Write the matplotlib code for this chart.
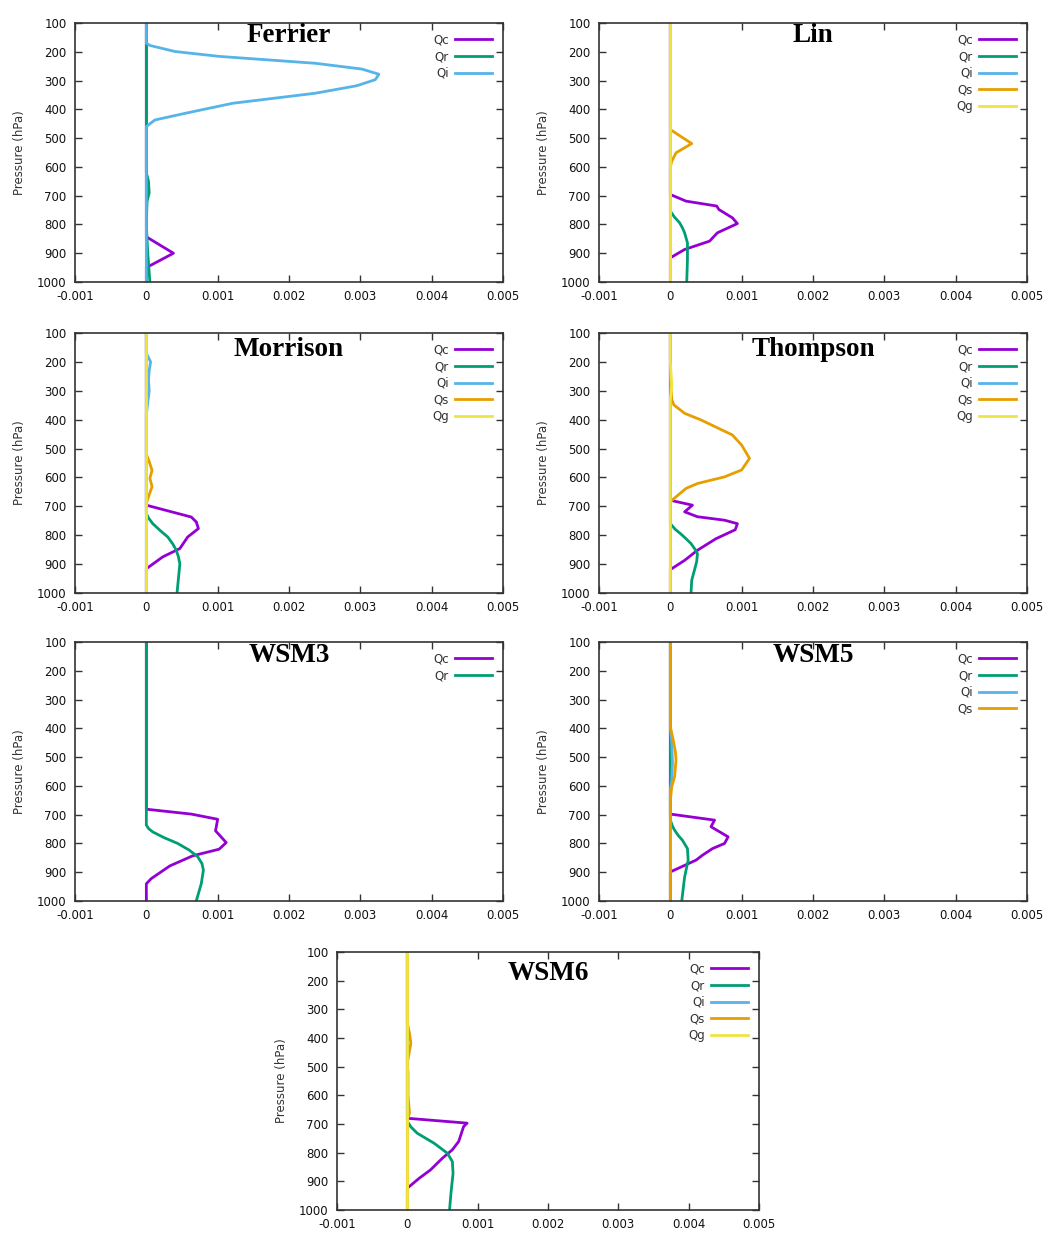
import matplotlib
matplotlib.use("Agg")
import matplotlib.pyplot as plt

# hydrometeor mixing ratio profiles (kg/kg) against pressure (hPa)
zero_p = [100, 1000]
zero_q = [0, 0]

ferrier_qc_p = [100, 843, 900, 950, 1000]
ferrier_qc = [0, 0, 0.00038, 0, 0]
ferrier_qr_p = [100, 620, 650, 690, 720, 800, 900, 1000]
ferrier_qr = [0, 0, 0.00003, 0.00004, 0.00001, 0, 0.00002, 0.00005]
ferrier_qi_p = [100, 170, 178, 199, 216, 240, 260, 278, 297, 318, 344, 379, 413, 437, 454, 460, 1000]
ferrier_qi = [0, 0, 0.00005, 0.0004, 0.00102, 0.00237, 0.00302, 0.00326, 0.00321, 0.00295,
              0.00237, 0.00121, 0.00056, 0.00012, 0.00003, 0, 0]

lin_qc_p = [100, 696, 719, 736, 748, 777, 797, 829, 858, 887, 916, 1000]
lin_qc = [0, 0, 0.00022, 0.00065, 0.00068, 0.00087, 0.00094, 0.00066, 0.00055, 0.0002, 0, 0]
lin_qr_p = [100, 754, 775, 794, 812, 829, 864, 922, 1000]
lin_qr = [0, 0, 0.00006, 0.00013, 0.00017, 0.0002, 0.00024, 0.00024, 0.00023]
lin_qs_p = [100, 470, 485, 519, 551, 580, 600, 1000]
lin_qs = [0, 0, 0.00009, 0.0003, 0.00008, 0.00002, 0, 0]

morrison_qc_p = [100, 696, 737, 754, 777, 806, 846, 875, 916, 1000]
morrison_qc = [0, 0, 0.00063, 0.0007, 0.00073, 0.00058, 0.00047, 0.00023, 0, 0]
morrison_qr_p = [100, 725, 740, 760, 785, 806, 830, 852, 875, 899, 950, 1000]
morrison_qr = [0, 0, 0.00003, 0.00009, 0.0002, 0.0003, 0.00037, 0.00042, 0.00045, 0.00047, 0.00045, 0.00043]
morrison_qi_p = [100, 170, 200, 230, 260, 300, 340, 383, 1000]
morrison_qi = [0, 0, 0.00006, 0.00004, 0.00003, 0.00004, 0.00002, 0, 0]
morrison_qs_p = [100, 520, 545, 575, 603, 632, 667, 690, 1000]
morrison_qs = [0, 0, 0.00004, 0.00008, 0.00005, 0.00008, 0.00003, 0, 0]

thompson_qc_p = [100, 679, 696, 719, 736, 748, 760, 781, 812, 852, 887, 919, 1000]
thompson_qc = [0, 0, 0.00031, 0.0002, 0.00038, 0.00076, 0.00094, 0.00091, 0.00064, 0.00038, 0.0002, 0, 0]
thompson_qr_p = [100, 760, 780, 794, 812, 829, 850, 864, 890, 910, 956, 1000]
thompson_qr = [0, 0, 0.00007, 0.00014, 0.00022, 0.00029, 0.00035, 0.00038, 0.00037, 0.00035, 0.0003, 0.00029]
thompson_qs_p = [100, 250, 330, 349, 378, 401, 453, 488, 534, 574, 598, 621, 638, 667, 684, 1000]
thompson_qs = [0, 0, 0.00002, 0.00005, 0.0002, 0.00043, 0.00087, 0.001, 0.00111, 0.001,
               0.00076, 0.00038, 0.00022, 0.00008, 0, 0]
thompson_qg_p = [100, 200, 280, 330, 1000]
thompson_qg = [0, 0, 0.00002, 0, 0]

wsm3_qc_p = [100, 681, 698, 716, 756, 797, 820, 843, 878, 922, 940, 1000]
wsm3_qc = [0, 0, 0.00063, 0.001, 0.00097, 0.00112, 0.00102, 0.00065, 0.00033, 0.00007, 0, 0]
wsm3_qr_p = [100, 736, 748, 760, 780, 800, 823, 846, 870, 893, 940, 1000]
wsm3_qr = [0, 0, 0.00003, 0.00009, 0.00025, 0.00044, 0.0006, 0.00072, 0.00078, 0.0008, 0.00077, 0.0007]

wsm5_qc_p = [100, 698, 719, 742, 777, 800, 818, 841, 858, 899, 1000]
wsm5_qc = [0, 0, 0.00062, 0.00057, 0.00081, 0.00076, 0.00059, 0.00045, 0.00036, 0, 0]
wsm5_qr_p = [100, 719, 740, 754, 772, 789, 818, 858, 917, 1000]
wsm5_qr = [0, 0, 0.00003, 0.00006, 0.00011, 0.00017, 0.00024, 0.00025, 0.0002, 0.00016]
wsm5_qi_p = [100, 394, 450, 520, 580, 614, 1000]
wsm5_qi = [0, 0, 0.00002, 0.00003, 0.00002, 0, 0]
wsm5_qs_p = [100, 394, 440, 480, 510, 568, 603, 650, 1000]
wsm5_qs = [0, 0, 0.00004, 0.00007, 0.00008, 0.00006, 0.00002, 0, 0]

wsm6_qc_p = [100, 680, 697, 709, 761, 790, 819, 843, 860, 889, 924, 1000]
wsm6_qc = [0, 0, 0.00085, 0.0008, 0.00073, 0.00064, 0.0005, 0.0004, 0.00033, 0.00017, 0, 0]
wsm6_qr_p = [100, 691, 710, 732, 767, 802, 831, 872, 942, 1000]
wsm6_qr = [0, 0, 0.00005, 0.00014, 0.00038, 0.00057, 0.00064, 0.00065, 0.00062, 0.0006]
wsm6_qs_p = [100, 348, 383, 418, 459, 488, 523, 600, 662, 686, 1000]
wsm6_qs = [0, 0, 0.00003, 0.00005, 0.00002, 0, 0.00001, 0.00001, 0.00003, 0, 0]

x_ticks = [-0.001, 0, 0.001, 0.002, 0.003, 0.004, 0.005]
x_labels = ["-0.001", "0", "0.001", "0.002", "0.003", "0.004", "0.005"]
y_ticks = [100, 200, 300, 400, 500, 600, 700, 800, 900, 1000]

colors = {"Qc": "#9400D3", "Qr": "#009E73", "Qi": "#56B4E9", "Qs": "#E69F00", "Qg": "#F0E442"}

panels = [
    ("Ferrier", [("Qc", ferrier_qc_p, ferrier_qc), ("Qr", ferrier_qr_p, ferrier_qr),
                 ("Qi", ferrier_qi_p, ferrier_qi)]),
    ("Lin", [("Qc", lin_qc_p, lin_qc), ("Qr", lin_qr_p, lin_qr), ("Qi", zero_p, zero_q),
             ("Qs", lin_qs_p, lin_qs), ("Qg", zero_p, zero_q)]),
    ("Morrison", [("Qc", morrison_qc_p, morrison_qc), ("Qr", morrison_qr_p, morrison_qr),
                  ("Qi", morrison_qi_p, morrison_qi), ("Qs", morrison_qs_p, morrison_qs),
                  ("Qg", zero_p, zero_q)]),
    ("Thompson", [("Qc", thompson_qc_p, thompson_qc), ("Qr", thompson_qr_p, thompson_qr),
                  ("Qi", zero_p, zero_q), ("Qs", thompson_qs_p, thompson_qs),
                  ("Qg", thompson_qg_p, thompson_qg)]),
    ("WSM3", [("Qc", wsm3_qc_p, wsm3_qc), ("Qr", wsm3_qr_p, wsm3_qr)]),
    ("WSM5", [("Qc", wsm5_qc_p, wsm5_qc), ("Qr", wsm5_qr_p, wsm5_qr),
              ("Qi", wsm5_qi_p, wsm5_qi), ("Qs", wsm5_qs_p, wsm5_qs)]),
    ("WSM6", [("Qc", wsm6_qc_p, wsm6_qc), ("Qr", wsm6_qr_p, wsm6_qr), ("Qi", zero_p, zero_q),
              ("Qs", wsm6_qs_p, wsm6_qs), ("Qg", zero_p, zero_q)]),
]

# axes boxes in pixels: left, top, right, bottom ; title centre offset from top
W, H = 1050, 1235
boxes = [(75, 23, 503, 282), (599, 23, 1027, 282),
         (75, 333, 503, 593), (599, 333, 1027, 593),
         (75, 642, 503, 901), (599, 642, 1027, 901),
         (337, 952, 759, 1210)]
title_dy = [12, 12, 17, 17, 13, 13, 21]

fig = plt.figure(figsize=(W / 100, H / 100), dpi=100)
fig.patch.set_facecolor("white")

for (name, series), (l, t, r, b), dy in zip(panels, boxes, title_dy):
    ax = fig.add_axes([l / W, 1 - b / H, (r - l) / W, (b - t) / H])
    for label, p, q in series:
        ax.plot(q, p, color=colors[label], lw=2.0, label=label)
    ax.set_xlim(-0.001, 0.005)
    ax.set_ylim(1000, 100)
    ax.set_xticks(x_ticks)
    ax.set_xticklabels(x_labels)
    ax.set_yticks(y_ticks)
    ax.tick_params(direction="in", top=True, right=True, length=5, width=1.0,
                   labelsize=8.5, labelcolor="#111111", color="#333333", pad=6)
    for s in ax.spines.values():
        s.set_linewidth(1.2)
        s.set_color("#333333")
    ax.set_ylabel("Pressure (hPa)", fontsize=8.5, color="#333333", labelpad=8)
    ax.text(0.5, 1 - dy / (b - t), name, transform=ax.transAxes, ha="center", va="center",
            fontsize=19.5, fontweight="bold", family="Liberation Serif", color="black")
    ax.legend(loc="upper right", frameon=False, markerfirst=False, fontsize=8.5,
              handlelength=3.2, labelspacing=0.3, borderaxespad=0.5, handletextpad=0.5,
              labelcolor="#333333")

fig.savefig("out.png", dpi=100)
